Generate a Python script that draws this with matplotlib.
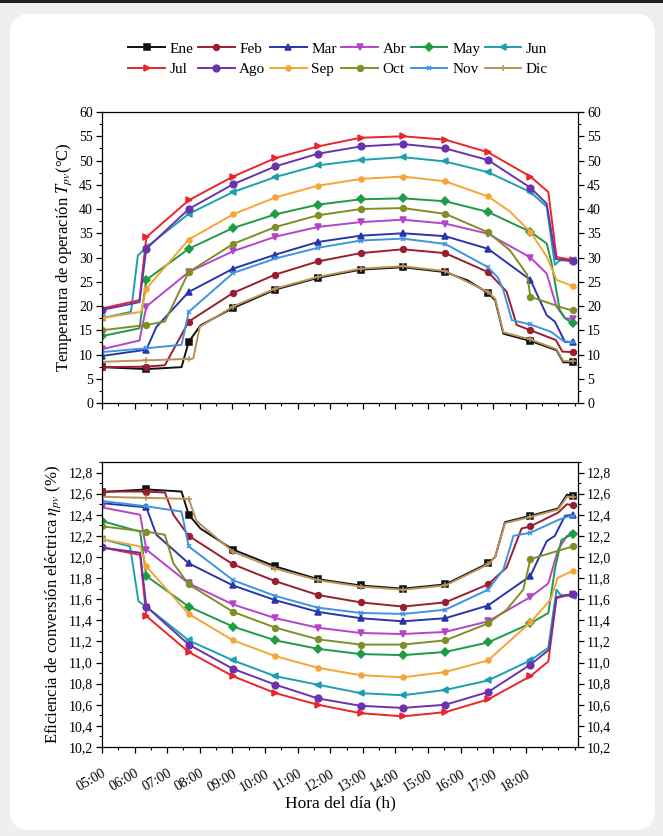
import numpy as np
import matplotlib.pyplot as plt
from matplotlib.patches import FancyBboxPatch, Rectangle
from matplotlib.ticker import MultipleLocator, FuncFormatter

plt.rcParams['font.family'] = ['Liberation Serif', 'DejaVu Serif']
plt.rcParams['mathtext.fontset'] = 'stix'

# hours where the markers sit
marker_hours = [5.0, 6.36, 7.66, 9.02, 10.32, 11.62, 12.93, 14.23, 15.53, 16.84, 18.14, 19.44]

months = ['Ene', 'Feb', 'Mar', 'Abr', 'May', 'Jun', 'Jul', 'Ago', 'Sep', 'Oct', 'Nov', 'Dic']
colors = ['#111111', '#9a1f2e', '#2a35a8', '#b545c8', '#1f9a45', '#1c9fae',
          '#e8262c', '#6b32b0', '#f6a535', '#7f8f25', '#3f93e3', '#b8925a']
markers = ['s', 'o', '^', 'v', 'D', '<', '>', 'o', 'o', 'o', 'x', '+']
msizes = [4.2, 4.2, 4.8, 4.8, 4, 4.8, 4.8, 4.8, 3.6, 4.2, 3.5, 4.5]

# operating temperature (deg C)
temp_x = {
    'Ene': [5.0, 6.36, 7.44, 7.66, 8.02, 9.02, 10.32, 11.62, 12.93, 14.23, 15.53, 16.21, 16.84, 17.06, 17.31, 18.14, 18.94, 19.15, 19.44],
    'Feb': [5.0, 6.36, 6.93, 7.66, 9.02, 10.32, 11.62, 12.93, 14.23, 15.53, 16.84, 17.41, 17.72, 18.14, 18.92, 19.12, 19.44],
    'Mar': [5.0, 6.36, 6.67, 7.66, 9.02, 10.32, 11.62, 12.93, 14.23, 15.53, 16.84, 18.14, 18.64, 18.89, 19.20, 19.44],
    'Abr': [5.0, 6.15, 6.36, 7.66, 9.02, 10.32, 11.62, 12.93, 14.23, 15.53, 16.84, 18.14, 18.64, 18.94, 19.20, 19.44],
    'May': [5.0, 6.15, 6.36, 7.66, 9.02, 10.32, 11.62, 12.93, 14.23, 15.53, 16.84, 18.14, 18.64, 18.79, 19.04, 19.20, 19.44],
    'Jun': [5.0, 5.89, 6.10, 6.36, 7.66, 9.02, 10.32, 11.62, 12.93, 14.23, 15.53, 16.84, 18.14, 18.64, 18.89, 19.04, 19.44],
    'Jul': [5.0, 6.15, 6.36, 7.66, 9.02, 10.32, 11.62, 12.93, 14.23, 15.53, 16.84, 18.14, 18.69, 18.94, 19.44],
    'Ago': [5.0, 6.15, 6.36, 7.66, 9.02, 10.32, 11.62, 12.93, 14.23, 15.53, 16.84, 18.14, 18.64, 18.92, 19.44],
    'Sep': [5.0, 6.20, 6.36, 7.66, 9.02, 10.32, 11.62, 12.93, 14.23, 15.53, 16.84, 17.51, 18.14, 18.64, 18.94, 19.44],
    'Oct': [5.0, 6.36, 6.93, 7.66, 9.02, 10.32, 11.62, 12.93, 14.23, 15.53, 16.84, 17.51, 18.04, 18.14, 19.20, 19.44],
    'Nov': [5.0, 6.36, 7.44, 7.66, 9.02, 10.32, 11.62, 12.93, 14.23, 15.53, 16.84, 17.15, 17.31, 17.57, 18.14, 18.77, 19.15, 19.44],
    'Dic': [5.0, 6.36, 7.66, 7.80, 8.00, 9.02, 10.32, 11.62, 12.93, 14.23, 15.53, 16.84, 17.06, 17.31, 18.14, 18.94, 19.15, 19.44],
}
temp_y = {
    'Ene': [7.4, 7.0, 7.4, 12.6, 16.0, 19.6, 23.4, 25.8, 27.5, 28.0, 27.0, 25.3, 22.7, 21.2, 14.3, 12.8, 10.9, 8.4, 8.4],
    'Feb': [7.4, 7.5, 7.8, 16.8, 22.7, 26.5, 29.2, 30.9, 31.7, 30.9, 27.0, 23.0, 16.1, 15.0, 13.0, 10.6, 10.5],
    'Mar': [9.7, 11.0, 15.7, 22.9, 27.7, 30.6, 33.2, 34.5, 35.0, 34.4, 31.8, 25.4, 18.1, 16.8, 12.6, 12.6],
    'Abr': [11.1, 12.9, 19.9, 27.0, 31.3, 34.3, 36.3, 37.3, 37.8, 37.0, 34.9, 30.0, 26.7, 19.9, 17.5, 17.3],
    'May': [13.8, 15.4, 25.4, 31.8, 36.1, 38.9, 40.9, 42.0, 42.2, 41.6, 39.4, 35.3, 32.9, 28.8, 19.2, 17.5, 16.4],
    'Jun': [17.5, 18.8, 30.4, 32.1, 39.0, 43.5, 46.6, 49.0, 50.1, 50.7, 49.8, 47.6, 43.5, 40.5, 28.5, 29.4, 29.5],
    'Jul': [19.5, 21.2, 34.2, 41.8, 46.7, 50.5, 52.9, 54.7, 55.0, 54.3, 51.7, 46.7, 43.5, 30.1, 29.5],
    'Ago': [19.2, 20.8, 31.8, 40.0, 45.1, 48.8, 51.4, 52.9, 53.4, 52.5, 50.1, 44.4, 41.1, 29.7, 29.2],
    'Sep': [17.5, 18.8, 23.6, 33.7, 38.9, 42.4, 44.8, 46.2, 46.7, 45.7, 42.6, 39.5, 35.3, 30.2, 25.4, 24.1],
    'Oct': [15.0, 16.1, 16.8, 27.0, 32.8, 36.3, 38.7, 40.0, 40.2, 39.0, 35.2, 31.5, 26.5, 21.9, 19.5, 19.1],
    'Nov': [10.5, 11.3, 12.0, 18.8, 26.8, 29.8, 32.0, 33.5, 33.9, 32.8, 28.0, 25.8, 23.3, 17.1, 16.2, 14.7, 12.8, 12.5],
    'Dic': [8.5, 8.8, 9.1, 9.2, 15.7, 19.9, 23.6, 26.0, 27.7, 28.2, 27.2, 22.9, 21.5, 14.6, 13.1, 11.1, 8.7, 8.6],
}

# electrical conversion efficiency (%)
eff_x = {
    'Ene': [5.0, 6.36, 7.44, 7.66, 8.02, 9.02, 10.32, 11.62, 12.93, 14.23, 15.53, 16.84, 17.06, 17.36, 18.14, 18.99, 19.26, 19.44],
    'Feb': [5.0, 6.36, 6.93, 7.19, 7.66, 9.02, 10.32, 11.62, 12.93, 14.23, 15.53, 16.84, 17.41, 17.87, 18.14, 18.99, 19.26, 19.44],
    'Mar': [5.0, 6.36, 6.67, 7.66, 9.02, 10.32, 11.62, 12.93, 14.23, 15.53, 16.84, 18.14, 18.64, 18.89, 19.20, 19.44],
    'Abr': [5.0, 6.17, 6.36, 7.66, 9.02, 10.32, 11.62, 12.93, 14.23, 15.53, 16.84, 18.14, 18.69, 18.99, 19.26, 19.44],
    'May': [5.0, 6.17, 6.36, 7.66, 9.02, 10.32, 11.62, 12.93, 14.23, 15.53, 16.84, 18.14, 18.69, 18.89, 19.09, 19.44],
    'Jun': [5.0, 5.86, 6.12, 6.36, 7.66, 9.02, 10.32, 11.62, 12.93, 14.23, 15.53, 16.84, 18.14, 18.69, 18.94, 19.07, 19.44],
    'Jul': [5.0, 6.17, 6.36, 7.66, 9.02, 10.32, 11.62, 12.93, 14.23, 15.53, 16.84, 18.14, 18.69, 18.94, 19.44],
    'Ago': [5.0, 6.17, 6.36, 7.66, 9.02, 10.32, 11.62, 12.93, 14.23, 15.53, 16.84, 18.14, 18.71, 18.94, 19.44],
    'Sep': [5.0, 6.17, 6.36, 7.66, 9.02, 10.32, 11.62, 12.93, 14.23, 15.53, 16.84, 18.14, 18.77, 18.97, 19.44],
    'Oct': [5.0, 6.36, 6.93, 7.19, 7.66, 9.02, 10.32, 11.62, 12.93, 14.23, 15.53, 16.84, 17.41, 17.92, 18.14, 19.44],
    'Nov': [5.0, 6.36, 7.44, 7.66, 9.02, 10.32, 11.62, 12.93, 14.23, 15.53, 16.84, 17.31, 17.62, 18.14, 18.99, 19.26, 19.44],
    'Dic': [5.0, 6.36, 7.66, 7.90, 9.02, 10.32, 11.62, 12.93, 14.23, 15.53, 16.84, 17.06, 17.36, 18.14, 18.99, 19.26, 19.44],
}
eff_y = {
    'Ene': [12.615, 12.64, 12.62, 12.40, 12.27, 12.07, 11.91, 11.79, 11.73, 11.70, 11.74, 11.94, 12.0, 12.33, 12.39, 12.46, 12.59, 12.58],
    'Feb': [12.62, 12.62, 12.61, 12.40, 12.20, 11.93, 11.77, 11.64, 11.57, 11.53, 11.57, 11.74, 11.90, 12.27, 12.29, 12.42, 12.50, 12.49],
    'Mar': [12.51, 12.47, 12.21, 11.94, 11.73, 11.59, 11.48, 11.42, 11.39, 11.42, 11.54, 11.82, 12.15, 12.20, 12.39, 12.40],
    'Abr': [12.47, 12.40, 12.07, 11.75, 11.55, 11.42, 11.33, 11.28, 11.27, 11.29, 11.39, 11.62, 11.75, 12.07, 12.20, 12.21],
    'May': [12.34, 12.24, 11.82, 11.53, 11.34, 11.21, 11.13, 11.08, 11.07, 11.10, 11.19, 11.37, 11.47, 11.88, 12.16, 12.22],
    'Jun': [12.17, 12.10, 11.58, 11.53, 11.21, 11.02, 10.87, 10.79, 10.71, 10.69, 10.74, 10.83, 11.02, 11.14, 11.69, 11.64, 11.63],
    'Jul': [12.09, 12.02, 11.44, 11.10, 10.87, 10.71, 10.60, 10.52, 10.49, 10.53, 10.65, 10.87, 11.01, 11.61, 11.65],
    'Ago': [12.09, 12.04, 11.53, 11.17, 10.94, 10.79, 10.66, 10.59, 10.57, 10.60, 10.72, 10.98, 11.12, 11.62, 11.65],
    'Sep': [12.17, 12.10, 11.91, 11.46, 11.21, 11.06, 10.95, 10.88, 10.86, 10.91, 11.02, 11.38, 11.60, 11.80, 11.87],
    'Oct': [12.29, 12.24, 12.21, 11.94, 11.74, 11.48, 11.33, 11.22, 11.17, 11.17, 11.21, 11.37, 11.50, 11.69, 11.98, 12.10],
    'Nov': [12.53, 12.48, 12.43, 12.10, 11.78, 11.63, 11.52, 11.47, 11.46, 11.50, 11.69, 11.88, 12.20, 12.23, 12.35, 12.38, 12.39],
    'Dic': [12.57, 12.56, 12.55, 12.34, 12.05, 11.89, 11.78, 11.72, 11.69, 11.73, 11.93, 12.0, 12.32, 12.38, 12.45, 12.57, 12.57],
}

hour_ticks = list(range(5, 19))
hour_labels = ['%02d:00' % h for h in hour_ticks]

fig = plt.figure(figsize=(6.63, 8.36), dpi=100)
fig.patch.set_facecolor('#eeeff0')
# white card and dark strip on top (behind the axes)
fig.patches.append(FancyBboxPatch((0.10, 0.06), 6.45, 8.16, boxstyle='round,pad=0,rounding_size=0.2',
                                  transform=fig.dpi_scale_trans, facecolor='white', edgecolor='none', zorder=-5))
fig.patches.append(Rectangle((0, 8.33), 6.63, 0.03, transform=fig.dpi_scale_trans,
                             facecolor='#231f20', edgecolor='none', zorder=-5))

ax1 = fig.add_axes([0.1538, 0.5179, 0.718, 0.3481])
ax2 = fig.add_axes([0.1538, 0.1065, 0.718, 0.3409])


def marks(xs):
    return [i for i, v in enumerate(xs) if np.any(np.isclose(v, marker_hours))]


handles = []
for m, c, mk, ms in zip(months, colors, markers, msizes):
    h, = ax1.plot(temp_x[m], temp_y[m], color=c, lw=1.4, marker=mk, ms=ms,
                  markevery=marks(temp_x[m]), mew=1.1, label=m)
    ax2.plot(eff_x[m], eff_y[m], color=c, lw=1.4, marker=mk, ms=ms,
             markevery=marks(eff_x[m]), mew=1.1)
    handles.append(h)

for ax in (ax1, ax2):
    ax.set_xlim(5, 19.6)
    ax.set_xticks(hour_ticks)
    ax.xaxis.set_minor_locator(MultipleLocator(0.5))
    ax.tick_params(which='both', direction='out', top=False, right=True, labelright=True,
                   labelsize=10, pad=2)
    ax.tick_params(which='major', length=4.5, width=0.9)
    ax.tick_params(which='minor', length=2.5, width=0.8)
    for s in ax.spines.values():
        s.set_linewidth(0.9)

ax1.set_ylim(0, 60)
ax1.yaxis.set_major_locator(MultipleLocator(5))
ax1.yaxis.set_minor_locator(MultipleLocator(2.5))
ax1.set_xticklabels([])
ax1.set_ylabel('Temperatura de operación $T_{pv}$(°C)', fontsize=12, labelpad=4)

ax2.set_ylim(10.2, 12.9)
ax2.yaxis.set_major_locator(MultipleLocator(0.2))
ax2.yaxis.set_minor_locator(MultipleLocator(0.1))
ax2.yaxis.set_major_formatter(FuncFormatter(lambda v, p: ('%.1f' % v).replace('.', ',')))
ax2.set_xticklabels(hour_labels, rotation=30, ha='right', rotation_mode='anchor', fontsize=10)
ax2.tick_params(axis='x', which='major', pad=10)
ax2.set_ylabel('Eficiencia de conversión eléctrica $\\eta_{pv}$ (%)', fontsize=12, labelpad=4)
ax2.set_xlabel('Hora del día (h)', fontsize=12.5, labelpad=1)

# legend: first row Ene..Jun, second row Jul..Dic
order = [0, 6, 1, 7, 2, 8, 3, 9, 4, 10, 5, 11]
fig.legend([handles[i] for i in order], [months[i] for i in order], ncol=6,
           loc='upper center', bbox_to_anchor=(0.51, 0.957), frameon=False, fontsize=11,
           handlelength=2.4, handletextpad=0.3, columnspacing=0.3, labelspacing=0.45,
           borderaxespad=0)

fig.savefig('out.png', dpi=100, facecolor=fig.get_facecolor())
